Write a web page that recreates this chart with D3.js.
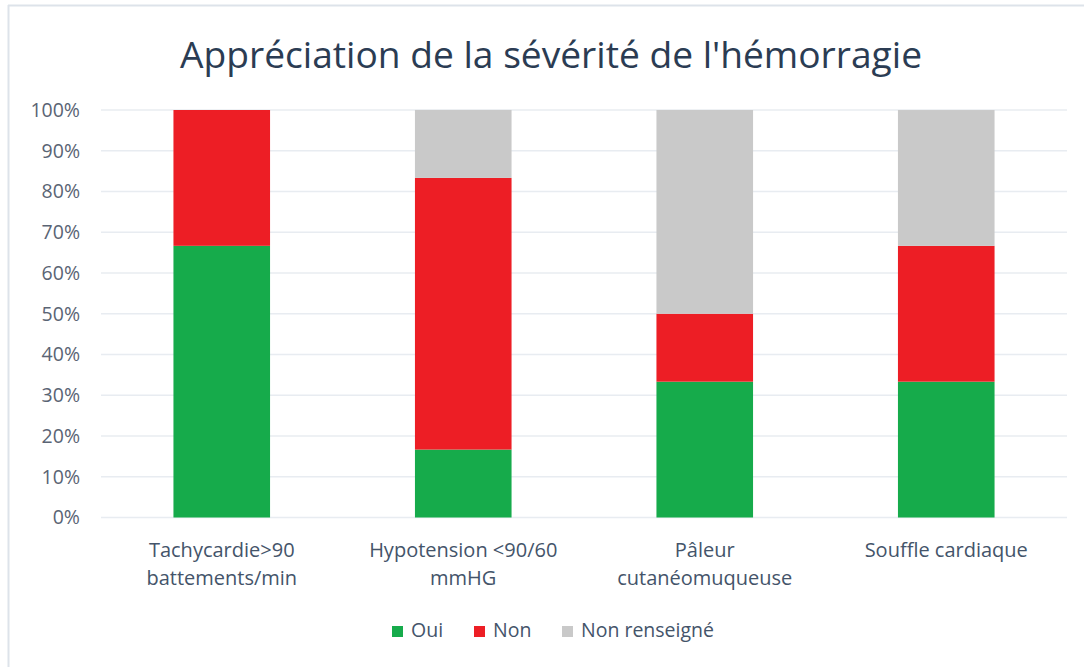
<!DOCTYPE html>
<html><head><meta charset="utf-8">
<script src="https://cdn.jsdelivr.net/npm/d3@7"></script>
<style>body{margin:0;background:#fff}svg{display:block}</style>
</head><body>
<script>
const categories = [["Tachycardie>90","battements/min"],["Hypotension <90/60","mmHG"],["Pâleur","cutanéomuqueuse"],["Souffle cardiaque"]];
const seriesNames = ["Oui","Non","Non renseigné"];
const seriesColors = ["#16ab4b","#ed1e25","#c9c9c9"];
const oui = [0.6667, 0.1667, 0.3333, 0.3333];
const non = [0.3333, 0.6667, 0.1667, 0.3333];
const nonRens = [0, 0.1667, 0.5, 0.3333];
const yTicks = [0,0.1,0.2,0.3,0.4,0.5,0.6,0.7,0.8,0.9,1];
const title = "Appréciation de la sévérité de l'hémorragie";

const W=1084,H=667;
const svg=d3.select("body").append("svg").attr("width",W).attr("height",H);
const font="'Open Sans', sans-serif";
const txt="#44546a";
// frame
svg.append("line").attr("x1",8).attr("x2",W).attr("y1",5.5).attr("y2",5.5).attr("stroke","#dde3ea").attr("stroke-width",2);
svg.append("line").attr("x1",8.5).attr("x2",8.5).attr("y1",5).attr("y2",H).attr("stroke","#dde3ea").attr("stroke-width",2);

const x=d3.scaleBand().domain(d3.range(categories.length)).range([101,1067]).paddingInner(0.6).paddingOuter(0.3);
const y=d3.scaleLinear().domain([0,1]).range([517.5,110]);

// grid
svg.append("g").selectAll("line").data(yTicks).join("line")
 .attr("x1",101).attr("x2",1067).attr("y1",d=>y(d)).attr("y2",d=>y(d))
 .attr("stroke","#e8ecf1").attr("stroke-width",1.5);

const yAxis=d3.axisLeft(y).tickValues(yTicks).tickFormat(d3.format(".0%")).tickSize(0).tickPadding(0);
const ga=svg.append("g").attr("transform","translate(80,0)").call(yAxis);
ga.select(".domain").remove();
ga.selectAll("text").attr("font-family",font).attr("font-size",19.5).attr("fill","#5a6474");

const data=categories.map((c,i)=>({i,Oui:oui[i],Non:non[i],"Non renseigné":nonRens[i]}));
const stack=d3.stack().keys(seriesNames)(data);
svg.append("g").selectAll("g").data(stack).join("g").attr("fill",(d,i)=>seriesColors[i])
 .selectAll("rect").data(d=>d).join("rect")
 .attr("x",d=>x(d.data.i)).attr("width",x.bandwidth())
 .attr("y",d=>y(d[1])).attr("height",d=>Math.max(0,y(d[0])-y(d[1])));

// x labels
const gx=svg.append("g");
categories.forEach((lines,i)=>{
  const t=gx.append("text").attr("x",x(i)+x.bandwidth()/2).attr("y",557).attr("text-anchor","middle")
   .attr("font-family",font).attr("font-size",20).attr("fill",txt);
  lines.forEach((l,k)=>t.append("tspan").attr("x",x(i)+x.bandwidth()/2).attr("dy",k?28:0).text(l));
});

// title
svg.append("text").attr("x",551).attr("y",68).attr("text-anchor","middle")
 .attr("font-family",font).attr("font-size",36).attr("fill","#2b3c53").text(title)
 .attr("textLength",742).attr("lengthAdjust","spacingAndGlyphs");

// legend
const legX=[392,474,562];
const lg=svg.append("g");
seriesNames.forEach((n,i)=>{
  lg.append("rect").attr("x",legX[i]).attr("y",626).attr("width",11).attr("height",11).attr("fill",seriesColors[i]);
  lg.append("text").attr("x",legX[i]+19).attr("y",637).attr("font-family",font).attr("font-size",19.5).attr("fill",txt).text(n);
});
</script>
</body></html>
